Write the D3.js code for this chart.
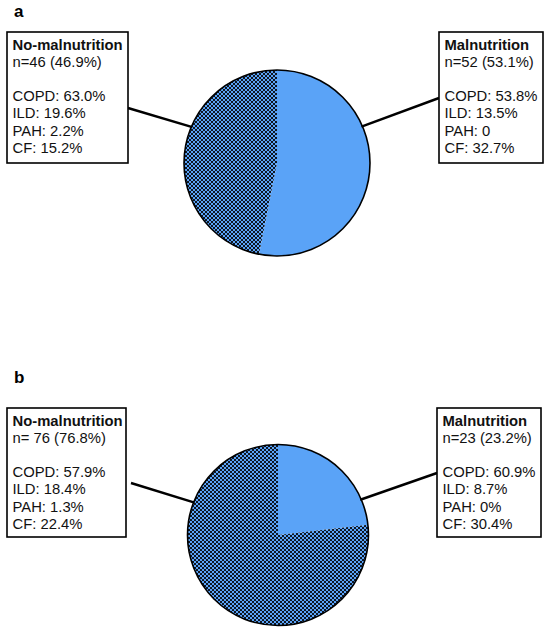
<!DOCTYPE html>
<html>
<head>
<meta charset="utf-8">
<script src="https://cdn.jsdelivr.net/npm/d3@7"></script>
<style>
  html, body { margin: 0; padding: 0; background: #fff; }
  svg { display: block; }
</style>
</head>
<body>
<svg id="chart" width="550" height="634"></svg>
<script>
// ---- data ----
const panelLetters = ["a", "b"];
const groupNames = ["Malnutrition", "No-malnutrition"];
const diagnoses = ["COPD", "ILD", "PAH", "CF"];

// panel a
const aShares = [53.1, 46.9];
const aNLabels = ["n=52 (53.1%)", "n=46 (46.9%)"];
const aMalValues = ["53.8%", "13.5%", "0", "32.7%"];
const aNoValues = ["63.0%", "19.6%", "2.2%", "15.2%"];

// panel b
const bShares = [23.2, 76.8];
const bNLabels = ["n=23 (23.2%)", "n= 76 (76.8%)"];
const bMalValues = ["60.9%", "8.7%", "0%", "30.4%"];
const bNoValues = ["57.9%", "18.4%", "1.3%", "22.4%"];

const panels = [
  { letter: panelLetters[0], shares: aShares, nLabels: aNLabels, values: [aMalValues, aNoValues],
    cx: 277, cy: 163, r: 93, letterY: 17, boxTop: 32, boxH: 131,
    boxes: [ {x: 439, w: 104}, {x: 7, w: 121} ],
    lines: [ {ang: 66.7, bx: 439, by: 98}, {ang: -67, bx: 128, by: 108} ] },
  { letter: panelLetters[1], shares: bShares, nLabels: bNLabels, values: [bMalValues, bNoValues],
    cx: 278, cy: 535, r: 90.5, letterY: 383, boxTop: 408, boxH: 129,
    boxes: [ {x: 437, w: 104}, {x: 7, w: 119} ],
    lines: [ {ang: 66.8, bx: 437, by: 473}, {ang: -68.8, bx: 131, by: 483} ] }
];

const lightBlue = "#5aa3f7";
const svg = d3.select("#chart");
const font = "'Liberation Sans', Arial, Helvetica, sans-serif";

// checkered pattern for no-malnutrition
const defs = svg.append("defs");
const pat = defs.append("pattern").attr("id", "checker")
  .attr("patternUnits", "userSpaceOnUse").attr("width", 4).attr("height", 4);
pat.append("rect").attr("width", 4).attr("height", 4).attr("fill", lightBlue);
pat.append("rect").attr("x", 0).attr("y", 0).attr("width", 2).attr("height", 2).attr("fill", "#0e1622");
pat.append("rect").attr("x", 2).attr("y", 2).attr("width", 2).attr("height", 2).attr("fill", "#0e1622");

const fills = ["url(#checker)"];
const colour = d3.scaleOrdinal().domain(groupNames).range([lightBlue, "url(#checker)"]);

const pie = d3.pie().sort(null).value(d => d.v);

panels.forEach(p => {
  const g = svg.append("g");

  // letter
  g.append("text").attr("x", 14).attr("y", p.letterY)
    .attr("font-family", font).attr("font-weight", "bold").attr("font-size", 17)
    .text(p.letter);

  // pie
  const data = groupNames.map((n, i) => ({ name: n, v: p.shares[i] }));
  const arcs = pie(data);
  const arc = d3.arc().innerRadius(0).outerRadius(p.r);
  const pg = g.append("g").attr("transform", `translate(${p.cx},${p.cy})`);
  pg.selectAll("path.slice").data(arcs).join("path")
    .attr("class", "slice")
    .attr("d", arc)
    .attr("fill", d => colour(d.data.name))
    .attr("stroke", "none");
  pg.append("circle").attr("r", p.r).attr("fill", "none")
    .attr("stroke", "#000").attr("stroke-width", 1.6);

  // connector lines
  p.lines.forEach(l => {
    const a = l.ang * Math.PI / 180;
    const px = p.cx + Math.sin(a) * (p.r - 1);
    const py = p.cy - Math.cos(a) * (p.r - 1);
    g.append("line").attr("x1", px).attr("y1", py).attr("x2", l.bx).attr("y2", l.by)
      .attr("stroke", "#000").attr("stroke-width", 2.4);
  });

  // boxes
  p.boxes.forEach((b, i) => {
    g.append("rect").attr("x", b.x).attr("y", p.boxTop).attr("width", b.w).attr("height", p.boxH)
      .attr("fill", "#fff").attr("stroke", "#000").attr("stroke-width", 1.6);
    const tx = b.x + 5.5;
    const base = p.boxTop + 17.5;
    const step = 17.2;
    const t = g.append("text").attr("font-family", font).attr("font-size", 14.8).attr("fill", "#111");
    t.append("tspan").attr("x", tx).attr("y", base).attr("font-weight", "bold").text(groupNames[i]);
    t.append("tspan").attr("x", tx).attr("y", base + step).text(p.nLabels[i]);
    diagnoses.forEach((dname, k) => {
      t.append("tspan").attr("x", tx).attr("y", base + step * (3 + k))
        .text(`${dname}: ${p.values[i][k]}`);
    });
  });
});
</script>
</body>
</html>
